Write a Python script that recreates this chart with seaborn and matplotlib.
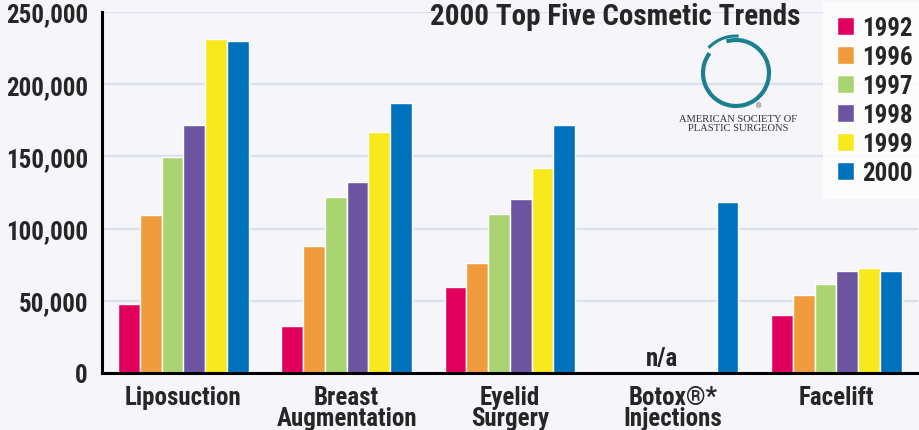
import pandas as pd
import matplotlib.pyplot as plt
import seaborn as sns
from matplotlib.patches import Arc
from matplotlib.ticker import FixedLocator

# data
procedures = ["Liposuction", "Breast\nAugmentation", "Eyelid\nSurgery",
              "Botox®*\nInjections", "Facelift"]
years = ["1992", "1996", "1997", "1998", "1999", "2000"]
y1992 = [47500, 32600, 59800, None, 40300]
y1996 = [109400, 87600, 76400, None, 53800]
y1997 = [149300, 122200, 110400, None, 61900]
y1998 = [172000, 132500, 120200, None, 70700]
y1999 = [231000, 167200, 142200, None, 73000]
y2000 = [229700, 187300, 172000, 118700, 70700]
year_colors = ["#E2005F", "#F09C3C", "#AAD372", "#6C54A0", "#F8E81E", "#0072BD"]
y_ticks = [0, 50000, 100000, 150000, 200000, 250000]
y_tick_labels = ["0", "50,000", "100,000", "150,000", "200,000", "250,000"]

rows = []
for year, vals in zip(years, [y1992, y1996, y1997, y1998, y1999, y2000]):
    for proc, v in zip(procedures, vals):
        if v is not None:
            rows.append({"procedure": proc, "year": year, "count": v})
df = pd.DataFrame(rows)

bg = "#F5F5FA"
sns.set_style("white")
plt.rcParams["font.family"] = ["Roboto Condensed", "DejaVu Sans"]

fig = plt.figure(figsize=(9.19, 4.31), dpi=100, facecolor=bg)
ax = fig.add_axes([0.1107, 0.1323, 0.8883, 0.8375])
ax.set_facecolor(bg)

sns.barplot(data=df, x="procedure", y="count", hue="year", order=procedures,
            hue_order=years, palette=year_colors, saturation=1, width=0.8, errorbar=None,
            edgecolor="white", linewidth=1, ax=ax)

ax.set_xlim(-0.5, 4.5)
ax.set_ylim(0, 250000)
ax.set_yticks(y_ticks)
ax.set_yticklabels(y_tick_labels, fontsize=18, fontweight="bold")
ax.set_xticks(range(len(procedures)))
ax.set_xticklabels(procedures, fontsize=18, fontweight="bold", linespacing=0.87)
ax.set_xlabel("")
ax.set_ylabel("")

ax.set_axisbelow(True)
ax.yaxis.grid(True, color="#D9E0F0", linewidth=1.6)
ax.xaxis.grid(False)

for side in ["top", "right"]:
    ax.spines[side].set_visible(False)
for side in ["left", "bottom"]:
    ax.spines[side].set_linewidth(2.2)
    ax.spines[side].set_color("black")

ax.tick_params(axis="y", direction="in", length=14.5, width=2.2, color="black", pad=10)
ax.tick_params(axis="x", which="major", length=0, pad=8.5)
ax.xaxis.set_minor_locator(FixedLocator([-0.5, 0.5, 1.5, 2.5, 3.5, 4.5]))
ax.tick_params(axis="x", which="minor", direction="in", length=5.8, width=1.6, color="black")

# no data for Botox before 2000
ax.text(3 - 0.0667, 2000, "n/a", ha="center", va="bottom", fontsize=18, fontweight="bold")

handles, labels = ax.get_legend_handles_labels()
leg = ax.legend(handles, labels, loc="upper left", bbox_to_anchor=(823 / 919, 1 - 3 / 431),
                bbox_transform=fig.transFigure, borderaxespad=0, borderpad=0.55,
                prop={"weight": "bold", "size": 18}, frameon=True, fancybox=False,
                handlelength=0.68, handleheight=0.68, handletextpad=0.35, labelspacing=0.2)
leg.get_frame().set_facecolor("white")
leg.get_frame().set_edgecolor("white")
leg.get_frame().set_linewidth(0)

fig.text(800 / 919, 1 - 17 / 431, "2000 Top Five Cosmetic Trends", ha="right", va="center",
         fontsize=21, fontweight="bold")

# ASPS logo
logo_color = "#1A7F8F"
fig.add_artist(Arc((736 / 919, 1 - 74 / 431), 66 / 919, 66 / 431, theta1=122, theta2=458,
                   transform=fig.transFigure, color=logo_color, linewidth=3))
fig.add_artist(Arc((736 / 919, 1 - 73 / 431), 74 / 919, 72 / 431, theta1=88, theta2=118,
                   transform=fig.transFigure, color=logo_color, linewidth=2.2))
fig.text(759 / 919, 1 - 107 / 431, "®", ha="center", va="center", fontsize=5,
         family=["Liberation Sans", "DejaVu Sans"], color="#333333")
fig.text(738 / 919, 1 - 124 / 431, "AMERICAN SOCIETY OF\nPLASTIC SURGEONS", ha="center",
         va="center", fontsize=7.6, family=["Liberation Serif", "DejaVu Serif"],
         color="#333333", linespacing=0.9)

fig.savefig("out.png", dpi=100, facecolor=bg)
